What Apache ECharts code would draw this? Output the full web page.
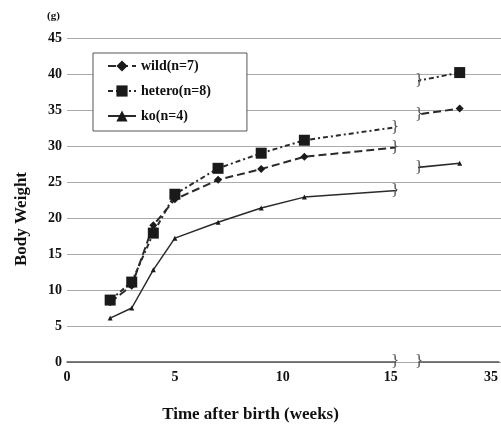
<!DOCTYPE html>
<html>
<head>
<meta charset="utf-8">
<script src="https://cdn.jsdelivr.net/npm/echarts@6/dist/echarts.min.js"></script>
<style>html,body{margin:0;padding:0;background:#fff}#c{width:501px;height:432px}</style>
</head>
<body>
<div id="c"></div>
<script>
var weeks = [2, 3, 4, 5, 7, 9, 11, 33];
var wild = [8.3, 10.6, 19.0, 22.6, 25.3, 26.8, 28.5, 35.2];
var hetero = [8.6, 11.1, 17.9, 23.3, 26.9, 29.0, 30.8, 40.2];
var ko = [6.1, 7.5, 12.8, 17.2, 19.4, 21.4, 22.9, 27.6];
var seriesNames = ['wild(n=7)', 'hetero(n=8)', 'ko(n=4)'];
var yTicks = [0, 5, 10, 15, 20, 25, 30, 35, 40, 45];
var xTicksLeft = [0, 5, 10, 15];
var xTicksRight = [35];
var leftMax = 15.2, rightMin = 30.4, rightMax = 35.5;

var FONT = 'Liberation Serif';
function pairs(vals) { return weeks.map(function (w, i) { return [w, vals[i]]; }); }

var styles = [
  { data: wild, symbol: 'diamond', size: 8, line: { type: [8, 4], width: 2 } },
  { data: hetero, symbol: 'rect', size: 11, line: { type: [5, 3, 2, 3], width: 2 } },
  { data: ko, symbol: 'triangle', size: 5, line: { type: 'solid', width: 1.5 } }
];

var series = [];
[1, 2].forEach(function (g) {
  styles.forEach(function (s, k) {
    series.push({
      name: seriesNames[k], type: 'line', xAxisIndex: g, yAxisIndex: g,
      data: pairs(s.data), symbol: s.symbol, symbolSize: s.size, clip: true,
      itemStyle: { color: '#1a1a1a' },
      lineStyle: { color: '#2a2a2a', width: s.line.width, type: s.line.type },
      emphasis: { disabled: true }, animation: false
    });
  });
});

var labelStyle = { color: '#111', fontFamily: FONT, fontWeight: 'bold', fontSize: 14 };
var chart = echarts.init(document.getElementById('c'));
chart.setOption({
  animation: false,
  backgroundColor: '#fff',
  title: [
    { text: '(g)', left: 42, top: 6, textStyle: { fontFamily: FONT, fontWeight: 'bold', fontSize: 11, color: '#111' } },
    { text: 'Time after birth (weeks)', left: 'center', top: 401, textStyle: { fontFamily: FONT, fontWeight: 'bold', fontSize: 17, color: '#111' } }
  ],
  legend: {
    data: seriesNames, orient: 'vertical', left: 93, top: 53,
    backgroundColor: '#fff', borderColor: '#555', borderWidth: 1,
    padding: [6, 36, 8, 14], itemGap: 11, itemWidth: 28, itemHeight: 14,
    textStyle: { fontFamily: FONT, fontWeight: 'bold', fontSize: 14, color: '#111' },
    selectedMode: false, z: 10
  },
  grid: [
    { left: 67, right: 0, top: 38, bottom: 70, containLabel: false },
    { left: 67, width: 328, top: 38, bottom: 70, containLabel: false },
    { left: 419, right: 0, top: 38, bottom: 70, containLabel: false }
  ],
  xAxis: [
    { gridIndex: 0, type: 'value', show: false, min: 0, max: 1 },
    { gridIndex: 1, type: 'value', min: 0, max: leftMax,
      axisLine: { show: true, lineStyle: { color: '#555', width: 1.5 } },
      axisTick: { show: false }, splitLine: { show: false },
      axisLabel: Object.assign({ customValues: xTicksLeft, margin: 8 }, labelStyle) },
    { gridIndex: 2, type: 'value', min: rightMin, max: rightMax,
      axisLine: { show: true, lineStyle: { color: '#555', width: 1.5 } },
      axisTick: { show: false }, splitLine: { show: false },
      axisLabel: Object.assign({ customValues: xTicksRight, margin: 8 }, labelStyle) }
  ],
  yAxis: [
    { gridIndex: 0, type: 'value', min: 0, max: 45, interval: 5,
      axisLine: { show: false }, axisTick: { show: false },
      splitLine: { show: true, lineStyle: { color: '#aaa', width: 1 } },
      axisLabel: Object.assign({ margin: 5, customValues: yTicks }, labelStyle) },
    { gridIndex: 1, type: 'value', min: 0, max: 45, show: false, splitLine: { show: false } },
    { gridIndex: 2, type: 'value', min: 0, max: 45, show: false, splitLine: { show: false } }
  ],
  series: series
});

// break marks at the edges of the two x segments
function valueAt(vals, x) {
  for (var i = 0; i < weeks.length - 1; i++) {
    if (x >= weeks[i] && x <= weeks[i + 1]) {
      return vals[i] + (vals[i + 1] - vals[i]) * (x - weeks[i]) / (weeks[i + 1] - weeks[i]);
    }
  }
  return vals[vals.length - 1];
}
var graphics = [
  { type: 'text', x: 22, y: 219, rotation: Math.PI / 2, z: 20,
    style: { text: 'Body Weight', fontFamily: FONT, fontWeight: 'bold', fontSize: 17, fill: '#111', align: 'center', verticalAlign: 'middle' } }
];
function addMark(grid, xv, yv) {
  var p = chart.convertToPixel({ xAxisIndex: grid, yAxisIndex: grid }, [xv, yv]);
  graphics.push({ type: 'text', x: p[0], y: p[1], z: 20,
    style: { text: '}', fontFamily: FONT, fontSize: 17, fill: '#555', align: 'center', verticalAlign: 'middle' } });
}
[wild, hetero, ko].forEach(function (vals) {
  addMark(1, leftMax, valueAt(vals, leftMax));
  addMark(2, rightMin, valueAt(vals, rightMin));
});
addMark(1, leftMax, 0);
addMark(2, rightMin, 0);
chart.setOption({ graphic: graphics });
</script>
</body>
</html>
